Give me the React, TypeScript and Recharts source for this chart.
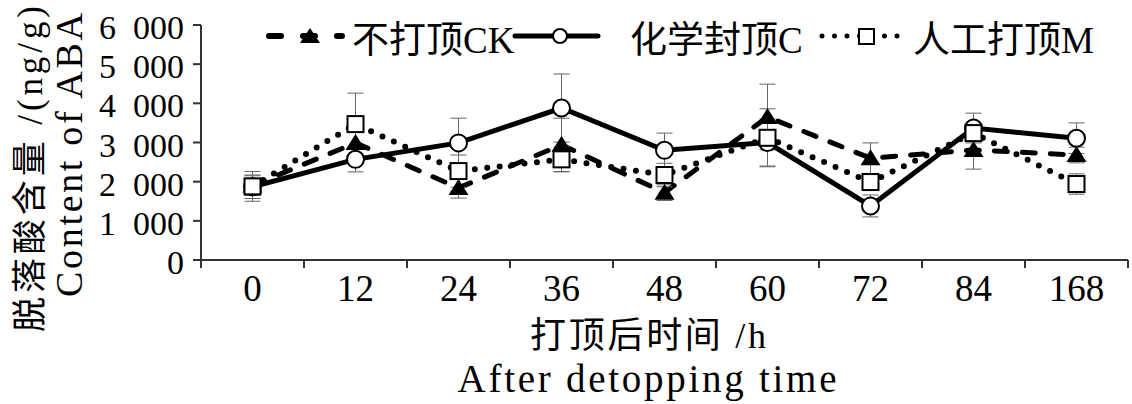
import React from 'react';
import { LineChart, Line, XAxis, YAxis, ErrorBar } from 'recharts';

const categories = ['0', '12', '24', '36', '48', '60', '72', '84', '168'];
const ckValues = [1900, 2990, 1840, 2940, 1720, 3650, 2600, 2810, 2680];
const ckErrors = [250, 300, 260, 680, 200, 840, 390, 490, 200];
const cValues = [1870, 2570, 2990, 3880, 2800, 3000, 1380, 3370, 3110];
const cErrors = [300, 320, 630, 870, 440, 600, 280, 380, 390];
const mValues = [1880, 3470, 2270, 2570, 2170, 3120, 1990, 3240, 1940];
const mErrors = [380, 790, 410, 320, 300, 740, 200, 150, 260];
const yTicks = [0, 1000, 2000, 3000, 4000, 5000, 6000];

const seriesNames = ['不打顶CK', '化学封顶C', '人工打顶M'];
const yTitleCn = '脱落酸含量 /(ng/g)';
const yTitleEn = 'Content of ABA';
const xTitleCn = '打顶后时间 /h';
const xTitleEn = 'After detopping time';

const data = categories.map((t, i) => ({
  t,
  ck: ckValues[i],
  ckErr: ckErrors[i],
  c: cValues[i],
  cErr: cErrors[i],
  m: mValues[i],
  mErr: mErrors[i],
}));

const W = 1132;
const H = 404;
const MARGIN = { top: 25, right: 4, left: 0, bottom: 0 };
const Y_AXIS_W = 201;
const X_AXIS_H = 144;
const X_TICK_SIZE = 8;
const X_TICK_MARGIN = 7;
const BAND = (W - MARGIN.left - MARGIN.right - Y_AXIS_W) / categories.length;
const AXIS = '#333';
const SERIF = '"Liberation Serif", "Noto Sans CJK SC", serif';
const ERR = '#666';

const fmt = (v: number) => String(v).replace(/(\d)(?=(\d{3})+$)/g, '$1\u2002');

const XTick = (props: any) => {
  const { x, y, payload, index } = props;
  const axisY = y - X_TICK_SIZE - X_TICK_MARGIN;
  const half = BAND / 2;
  return (
    <g>
      <line x1={x - half} x2={x - half} y1={axisY} y2={axisY + X_TICK_SIZE} stroke={AXIS} strokeWidth={2} />
      {index === categories.length - 1 && (
        <line x1={x + half} x2={x + half} y1={axisY} y2={axisY + X_TICK_SIZE} stroke={AXIS} strokeWidth={2} />
      )}
      <text x={x} y={y} dy="0.71em" textAnchor="middle" fontSize={37} fontFamily={SERIF} fill="#000">
        {payload.value}
      </text>
    </g>
  );
};

const TriangleDot = (props: any) => {
  const { cx, cy, index } = props;
  if (cx == null || cy == null) return <g key={`t${index}`} />;
  return <path key={`t${index}`} d={`M${cx},${cy - 9} L${cx + 10},${cy + 7} L${cx - 10},${cy + 7} Z`} fill="#000" />;
};
const CircleDot = (props: any) => {
  const { cx, cy, index } = props;
  if (cx == null || cy == null) return <g key={`c${index}`} />;
  return <circle key={`c${index}`} cx={cx} cy={cy} r={8.5} fill="#fff" stroke="#000" strokeWidth={2} />;
};
const SquareDot = (props: any) => {
  const { cx, cy, index } = props;
  if (cx == null || cy == null) return <g key={`s${index}`} />;
  return <rect key={`s${index}`} x={cx - 8} y={cy - 8} width={16} height={16} fill="#fff" stroke="#000" strokeWidth={2} />;
};

const Overlay = () => (
  <svg width={W} height={H} style={{ position: 'absolute', left: 0, top: 0, pointerEvents: 'none' }}>
    {/* legend */}
    <g>
      <line x1={269} x2={342} y1={36} y2={36} stroke="#000" strokeWidth={6} strokeDasharray="12 22" strokeLinecap="round" />
      <path d="M310,28 L320,43 L300,43 Z" fill="#000" />
      <text x={352} y={40} dominantBaseline="central" fontSize={37} fontFamily={SERIF} fill="#000">{seriesNames[0]}</text>

      <line x1={515} x2={598} y1={36} y2={36} stroke="#000" strokeWidth={5} strokeLinecap="round" />
      <circle cx={560} cy={36} r={7} fill="#fff" stroke="#000" strokeWidth={2} />
      <text x={630} y={40} dominantBaseline="central" fontSize={37} fontFamily={SERIF} fill="#000">{seriesNames[1]}</text>

      <line x1={822} x2={898} y1={36} y2={36} stroke="#000" strokeWidth={5} strokeDasharray="0 12.5" strokeLinecap="round" />
      <rect x={859} y={29} width={15} height={15} fill="#fff" stroke="#000" strokeWidth={2} />
      <text x={913} y={40} dominantBaseline="central" fontSize={37} fontFamily={SERIF} fill="#000">{seriesNames[2]}</text>
    </g>
    {/* y title */}
    <text
      transform="translate(30,169) rotate(-90)"
      textAnchor="middle"
      dominantBaseline="central"
      fontSize={35}
      fontFamily={SERIF}
      fill="#000"
      textLength={326}
      lengthAdjust="spacing"
    >
      {yTitleCn}
    </text>
    <text
      transform="translate(69,155) rotate(-90)"
      textAnchor="middle"
      dominantBaseline="central"
      fontSize={38}
      fontFamily={SERIF}
      fill="#000"
      textLength={284}
      lengthAdjust="spacing"
    >
      {yTitleEn}
    </text>
    {/* x title */}
    <text x={648} y={336} textAnchor="middle" dominantBaseline="central" fontSize={36} fontFamily={SERIF} fill="#000" textLength={236} lengthAdjust="spacing">
      {xTitleCn}
    </text>
    <text x={647} y={392} textAnchor="middle" fontSize={39} fontFamily={SERIF} fill="#000" textLength={379} lengthAdjust="spacing">
      {xTitleEn}
    </text>
  </svg>
);

export default function App() {
  return (
    <div style={{ position: 'absolute', left: 0, top: 0, width: W, height: H, background: '#fff' }}>
      <LineChart width={W} height={H} data={data} margin={MARGIN}>
        <XAxis
          dataKey="t"
          type="category"
          scale="band"
          height={X_AXIS_H}
          axisLine={{ stroke: AXIS, strokeWidth: 2 }}
          tickLine={false}
          tickSize={X_TICK_SIZE}
          tickMargin={X_TICK_MARGIN}
          tick={<XTick />}
          interval={0}
        />
        <YAxis
          type="number"
          domain={[0, 6000]}
          ticks={yTicks}
          width={Y_AXIS_W}
          tickFormatter={fmt}
          axisLine={{ stroke: AXIS, strokeWidth: 2 }}
          tickLine={{ stroke: AXIS, strokeWidth: 2 }}
          tickSize={8}
          tickMargin={9}
          tick={{ fontSize: 34, fill: '#000', fontFamily: SERIF, dy: 2 }}
          interval={0}
          allowDataOverflow
        />
        <Line
          dataKey="c"
          stroke="#000"
          strokeWidth={5}
          dot={CircleDot}
          activeDot={false}
          isAnimationActive={false}
        >
          <ErrorBar dataKey="cErr" width={8} stroke={ERR} strokeWidth={1} direction="y" />
        </Line>
        <Line
          dataKey="ck"
          stroke="#000"
          strokeWidth={5}
          strokeDasharray="13 15"
          strokeLinecap="round"
          dot={TriangleDot}
          activeDot={false}
          isAnimationActive={false}
        >
          <ErrorBar dataKey="ckErr" width={8} stroke={ERR} strokeWidth={1} direction="y" />
        </Line>
        <Line
          dataKey="m"
          stroke="#000"
          strokeWidth={6}
          strokeDasharray="0 12.5"
          strokeLinecap="round"
          dot={SquareDot}
          activeDot={false}
          isAnimationActive={false}
        >
          <ErrorBar dataKey="mErr" width={8} stroke={ERR} strokeWidth={1} direction="y" />
        </Line>
      </LineChart>
      <Overlay />
    </div>
  );
}
